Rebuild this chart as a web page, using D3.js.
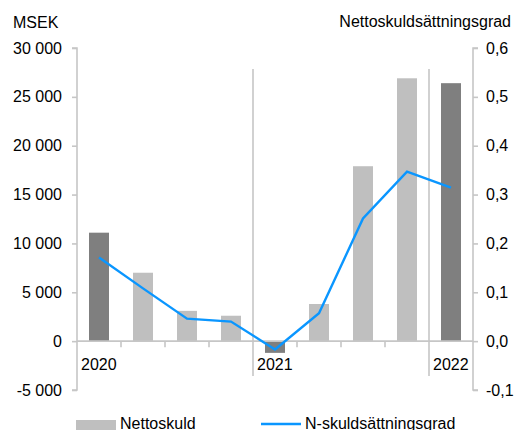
<!DOCTYPE html>
<html>
<head>
<meta charset="utf-8">
<script src="https://cdn.jsdelivr.net/npm/d3@7"></script>
<style>
  html, body { margin: 0; padding: 0; background: #fff; }
  svg { display: block; }
  text { font-family: "Liberation Sans", Arial, sans-serif; font-size: 16px; fill: #000; }
</style>
</head>
<body>
<script>
// ---- data ----
const categories = ["2020-Q4", "2021-Q1", "2021-Q2", "2021-Q3", "2021-Q4", "2022-Q1", "2022-Q2", "2022-Q3", "2022-Q4"];
const nettoskuld = [11100, 7000, 3100, 2600, -1200, 3800, 17900, 26900, 26400];
const skuldsattningsgrad = [0.171, 0.108, 0.046, 0.040, -0.017, 0.057, 0.251, 0.347, 0.314];
const barKind = ["year", "q", "q", "q", "year", "q", "q", "q", "year"];
const yearLabels = [{ idx: 0, label: "2020" }, { idx: 4, label: "2021" }, { idx: 8, label: "2022" }];
const leftTicks = [-5000, 0, 5000, 10000, 15000, 20000, 25000, 30000];
const rightTicks = [-0.1, 0, 0.1, 0.2, 0.3, 0.4, 0.5, 0.6];
const legendLabels = ["Nettoskuld", "N-skuldsättningsgrad"];

// ---- layout ----
const W = 516, H = 430;
const plotL = 77, plotR = 473, plotT = 48, plotB = 390;
const axisColor = "#c6c6c6";
const darkBar = "#7f7f7f", lightBar = "#bfbfbf", lineColor = "#0a96ff";

const svg = d3.select("body").append("svg").attr("width", W).attr("height", H);

const x = d3.scaleBand().domain(categories).range([plotL, plotR]).paddingInner(24 / 44).paddingOuter(12 / 44);
const yL = d3.scaleLinear().domain([-5000, 30000]).range([plotB, plotT]);
const yR = d3.scaleLinear().domain([-0.1, 0.6]).range([plotB, plotT]);
const step = x.step();
const fmtL = v => d3.format(",")(v).replace(/,/g, " ").replace("−", "-");
const fmtR = v => d3.format(".1f")(v).replace(".", ",").replace("−", "-");

// bars
svg.append("g").selectAll("rect").data(categories).join("rect")
  .attr("x", d => x(d))
  .attr("width", x.bandwidth())
  .attr("y", (d, i) => Math.min(yL(nettoskuld[i]), yL(0)))
  .attr("height", (d, i) => Math.abs(yL(nettoskuld[i]) - yL(0)))
  .attr("fill", (d, i) => barKind[i] === "year" ? darkBar : lightBar);

// zero line
svg.append("line").attr("x1", plotL).attr("x2", plotR).attr("y1", yL(0)).attr("y2", yL(0))
  .attr("stroke", axisColor).attr("stroke-width", 1.6);

// category ticks (boundaries) and year separators
const sepIdx = yearLabels.filter(d => d.idx > 0).map(d => d.idx);
svg.append("g").selectAll("line").data(d3.range(1, categories.length)).join("line")
  .attr("x1", i => plotL + i * step).attr("x2", i => plotL + i * step)
  .attr("y1", i => sepIdx.includes(i) ? 69 : yL(0))
  .attr("y2", i => sepIdx.includes(i) ? 376 : yL(0) + 6)
  .attr("stroke", axisColor).attr("stroke-width", 1.6);

// year labels
svg.append("g").selectAll("text").data(yearLabels).join("text")
  .attr("x", d => plotL + d.idx * step + 4)
  .attr("y", 370)
  .text(d => d.label);

// left axis
const gL = svg.append("g").attr("transform", `translate(${plotL},0)`)
  .call(d3.axisLeft(yL).tickValues(leftTicks).tickFormat(fmtL).tickSize(5).tickPadding(10));
gL.select(".domain").attr("stroke", axisColor).attr("stroke-width", 1.6);
gL.selectAll(".tick line").attr("stroke", axisColor).attr("stroke-width", 1.6);
gL.selectAll(".tick text").attr("font-size", 16).attr("font-family", "Liberation Sans, Arial, sans-serif").attr("fill", "#000");

// right axis
const gR = svg.append("g").attr("transform", `translate(${plotR},0)`)
  .call(d3.axisRight(yR).tickValues(rightTicks).tickFormat(fmtR).tickSize(5).tickPadding(8));
gR.select(".domain").attr("stroke", axisColor).attr("stroke-width", 1.6);
gR.selectAll(".tick line").attr("stroke", axisColor).attr("stroke-width", 1.6);
gR.selectAll(".tick text").attr("font-size", 16).attr("font-family", "Liberation Sans, Arial, sans-serif").attr("fill", "#000");
gL.selectAll(".domain").attr("d", `M-5,${plotT}H0V${plotB}H-5`);
gR.selectAll(".domain").attr("d", `M5,${plotT}H0V${plotB}H5`);

// line
const line = d3.line().x((d, i) => x(categories[i]) + x.bandwidth() / 2).y(d => yR(d));
svg.append("path").datum(skuldsattningsgrad).attr("d", line)
  .attr("fill", "none").attr("stroke", lineColor).attr("stroke-width", 2.4).attr("stroke-linejoin", "miter");

// axis titles
svg.append("text").attr("x", 13).attr("y", 28).text("MSEK");
svg.append("text").attr("x", 511).attr("y", 27).attr("text-anchor", "end").text("Nettoskuldsättningsgrad");

// legend
const lg = svg.append("g");
lg.append("rect").attr("x", 76).attr("y", 420).attr("width", 40).attr("height", 12).attr("fill", lightBar);
lg.append("text").attr("x", 120).attr("y", 429).text(legendLabels[0]);
lg.append("line").attr("x1", 261).attr("x2", 301).attr("y1", 424).attr("y2", 424)
  .attr("stroke", lineColor).attr("stroke-width", 2.4);
lg.append("text").attr("x", 305).attr("y", 429).text(legendLabels[1]);
</script>
</body>
</html>
